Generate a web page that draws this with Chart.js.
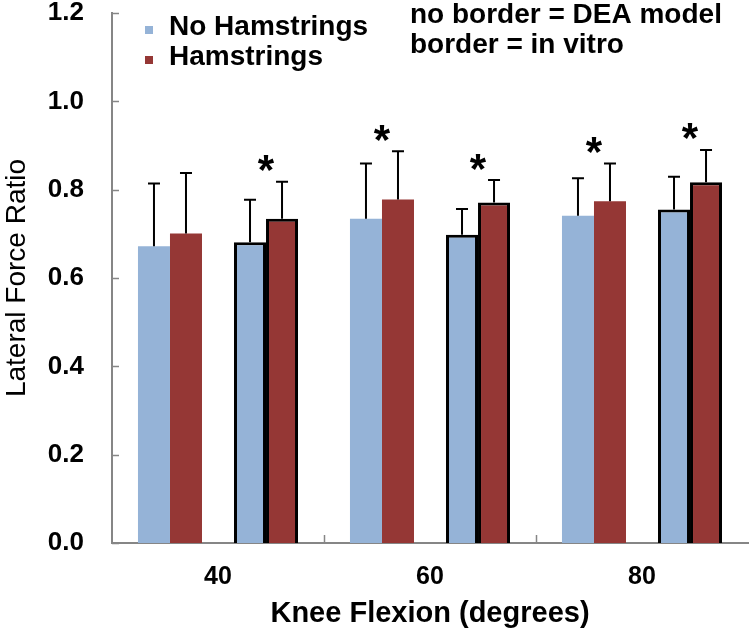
<!DOCTYPE html>
<html>
<head>
<meta charset="utf-8">
<script src="https://cdn.jsdelivr.net/npm/chart.js@4.4.1/dist/chart.umd.min.js"></script>
<style>
  html, body { margin: 0; padding: 0; background: #fff; }
  #wrap { width: 750px; height: 633px; }
</style>
</head>
<body>
<div id="wrap"><canvas id="chart"></canvas></div>
<script>
// knee flexion angles
const categories = ['40', '60', '80'];

// DEA model (no border)
const deaNoHam = [0.672, 0.734, 0.741];
const deaNoHamSD = [0.142, 0.125, 0.085];
const deaHam = [0.701, 0.778, 0.774];
const deaHamSD = [0.137, 0.109, 0.085];

// in vitro (border)
const vitroNoHam = [0.681, 0.698, 0.755];
const vitroNoHamSD = [0.096, 0.058, 0.074];
const vitroHam = [0.734, 0.771, 0.817];
const vitroHamSD = [0.084, 0.051, 0.073];

// significance markers per pair
const deaSig = [false, true, true];
const vitroSig = [true, true, true];

const yTicks = [0, 0.2, 0.4, 0.6, 0.8, 1.0, 1.2];

const blue = '#95B3D7';
const red = '#953735';
const axisGray = '#868686';
const FONT = '"Liberation Sans", Arial, sans-serif';

// error bars (upper only)
const errorBars = {
  id: 'errorBars',
  afterDatasetsDraw(chart) {
    const ctx = chart.ctx;
    const y = chart.scales.y;
    chart.data.datasets.forEach((ds, di) => {
      if (!ds.sd) return;
      const meta = chart.getDatasetMeta(di);
      meta.data.forEach((bar, i) => {
        const top = y.getPixelForValue(ds.data[i] + ds.sd[i]);
        ctx.save();
        ctx.strokeStyle = '#000';
        ctx.lineWidth = 2;
        ctx.beginPath();
        ctx.moveTo(bar.x, bar.y);
        ctx.lineTo(bar.x, top);
        ctx.moveTo(bar.x - 6, top);
        ctx.lineTo(bar.x + 6, top);
        ctx.stroke();
        ctx.restore();
      });
    });
  }
};

// asterisks above significant pairs
const asterisks = {
  id: 'asterisks',
  afterDatasetsDraw(chart) {
    const ctx = chart.ctx;
    const y = chart.scales.y;
    const pairs = [[0, 1, deaSig], [3, 4, vitroSig]];
    ctx.save();
    ctx.fillStyle = '#000';
    ctx.font = 'bold 42px ' + FONT;
    ctx.textAlign = 'center';
    ctx.textBaseline = 'middle';
    pairs.forEach(([a, b, sig]) => {
      const dsA = chart.data.datasets[a], dsB = chart.data.datasets[b];
      const mA = chart.getDatasetMeta(a), mB = chart.getDatasetMeta(b);
      sig.forEach((s, i) => {
        if (!s) return;
        const x = (mA.data[i].x + mB.data[i].x) / 2;
        const top = Math.max(dsA.data[i] + dsA.sd[i], dsB.data[i] + dsB.sd[i]);
        ctx.fillText('*', x, y.getPixelForValue(top) - 9);
      });
    });
    ctx.restore();
  }
};

// inner tick marks + legend + note
const decorations = {
  id: 'decorations',
  afterDraw(chart) {
    const ctx = chart.ctx;
    const {x, y} = chart.scales;
    const area = chart.chartArea;
    ctx.save();
    ctx.strokeStyle = axisGray;
    ctx.lineWidth = 1.5;
    ctx.beginPath();
    yTicks.forEach(v => {
      const py = Math.round(y.getPixelForValue(v)) + 0.5;
      ctx.moveTo(area.left, py);
      ctx.lineTo(area.left + 7, py);
    });
    for (let i = 0; i < categories.length - 1; i++) {
      const px = Math.round((x.getPixelForTick(i) + x.getPixelForTick(i + 1)) / 2) + 0.5;
      ctx.moveTo(px, area.bottom);
      ctx.lineTo(px, area.bottom - 8);
    }
    ctx.stroke();

    // legend
    ctx.font = 'bold 28px ' + FONT;
    ctx.textBaseline = 'alphabetic';
    ctx.textAlign = 'left';
    const items = [['No Hamstrings', blue, 35], ['Hamstrings', red, 65]];
    items.forEach(([label, color, base]) => {
      ctx.fillStyle = color;
      ctx.fillRect(145, base - 9, 8, 8);
      ctx.fillStyle = '#000';
      ctx.fillText(label, 169, base);
    });

    // note
    ctx.font = 'bold 28px ' + FONT;
    ctx.fillText('no border = DEA model', 410, 23);
    ctx.fillText('border = in vitro', 410, 53);
    ctx.restore();
  }
};

const gap = categories.map(() => null);

new Chart(document.getElementById('chart'), {
  type: 'bar',
  data: {
    labels: categories,
    datasets: [
      { label: 'No Hamstrings', data: deaNoHam, sd: deaNoHamSD, backgroundColor: blue, borderWidth: 0 },
      { label: 'Hamstrings', data: deaHam, sd: deaHamSD, backgroundColor: red, borderWidth: 0 },
      { label: '', data: gap, backgroundColor: 'rgba(0,0,0,0)' },
      { label: 'No Hamstrings (in vitro)', data: vitroNoHam, sd: vitroNoHamSD, backgroundColor: blue, borderColor: '#000', borderWidth: 3 },
      { label: 'Hamstrings (in vitro)', data: vitroHam, sd: vitroHamSD, backgroundColor: red, borderColor: '#000', borderWidth: 3 }
    ]
  },
  options: {
    responsive: true,
    maintainAspectRatio: false,
    animation: false,
    layout: { padding: { top: 13, right: 2, left: 0, bottom: 0 } },
    datasets: { bar: { categoryPercentage: 0.755, barPercentage: 1.0 } },
    plugins: {
      legend: { display: false },
      tooltip: { enabled: false }
    },
    scales: {
      x: {
        grid: { display: false },
        border: { display: true, color: axisGray, width: 2 },
        ticks: {
          color: '#000',
          padding: 11,
          font: { family: FONT, size: 25, weight: 'bold' }
        },
        title: {
          display: true,
          text: 'Knee Flexion (degrees)',
          color: '#000',
          padding: { top: 0, bottom: 2 },
          font: { family: FONT, size: 29, weight: 'bold' }
        },
        afterFit(scale) { scale.height = 90; }
      },
      y: {
        min: 0,
        max: 1.2,
        grid: { display: false },
        border: { display: true, color: axisGray, width: 2 },
        ticks: {
          stepSize: 0.2,
          color: '#000',
          padding: 20,
          font: { family: FONT, size: 26, weight: 'bold' },
          callback: v => v.toFixed(1)
        },
        title: {
          display: true,
          text: 'Lateral Force Ratio',
          color: '#000',
          padding: { top: 0, bottom: 0 },
          font: { family: FONT, size: 28, weight: 'normal' }
        },
        afterFit(scale) {
          scale.width = 112;
          scale.paddingTop = 0;
          scale.paddingBottom = 0;
        }
      }
    }
  },
  plugins: [errorBars, asterisks, decorations]
});
</script>
</body>
</html>
